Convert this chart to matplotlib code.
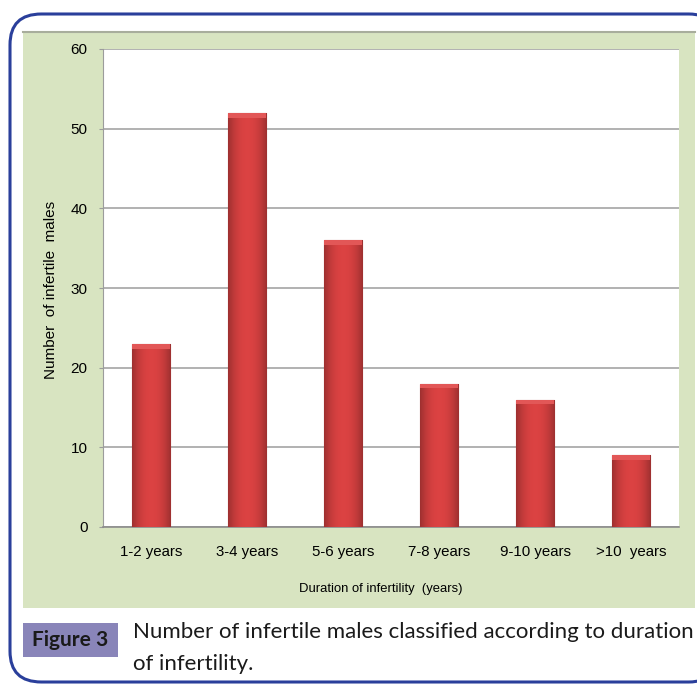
import numpy as np
import matplotlib.pyplot as plt
from matplotlib.patches import FancyBboxPatch, Rectangle

# data
categories = ["1-2 years", "3-4 years", "5-6 years", "7-8 years", "9-10 years", ">10  years"]
counts = [23, 52, 36, 18, 16, 9]
yticks = [0, 10, 20, 30, 40, 50, 60]

W, H = 697, 684
fig = plt.figure(figsize=(W/100, H/100), dpi=100)

def fx(px):
    return px / W

def fy(py):
    return 1 - py / H

# outer rounded frame (runs off the right edge like the original)
frame = FancyBboxPatch((fx(10), fy(682)), fx(720) - fx(10), fy(14) - fy(682),
                       boxstyle="round,pad=0,rounding_size=0.045",
                       transform=fig.transFigure, facecolor="white",
                       edgecolor="#2a3f9b", linewidth=2.2, zorder=0)
fig.patches.append(frame)

# green chart area
fig.patches.append(Rectangle((fx(23), fy(608)), fx(695) - fx(23), fy(32) - fy(608),
                             transform=fig.transFigure, facecolor="#d8e4c1",
                             edgecolor="none", zorder=1))
fig.add_artist(plt.Line2D([fx(23), fx(695)], [fy(32), fy(32)], transform=fig.transFigure,
                          color="#a8ad9c", lw=1.5, zorder=2))

ax = fig.add_axes([fx(103), fy(527), fx(679) - fx(103), fy(49) - fy(527)])
ax.set_zorder(3)
ax.set_facecolor("white")

x = np.arange(len(categories))
bars = ax.bar(x, counts, width=0.40, color="#d43d3d", edgecolor="#a02c2c",
              linewidth=0.8, zorder=3)

# horizontal shading on each bar
grad = np.linspace(-1, 1, 64)
shade = 1 - 0.28 * np.abs(grad) ** 2.2
base = np.array([0.86, 0.26, 0.26])
img = (shade[:, None] * base[None, :])[None, :, :]
for b in bars:
    bx, by = b.get_x(), b.get_y()
    im = ax.imshow(img, extent=[bx, bx + b.get_width(), by, by + b.get_height()],
                   aspect="auto", zorder=3.5, interpolation="bilinear")
    im.set_clip_path(b)
    # faint bevel at the top
    ax.add_patch(Rectangle((bx, b.get_height() - 0.6), b.get_width(), 0.6,
                           facecolor="#e25757", edgecolor="none", zorder=3.6))

ax.set_xlim(-0.5, len(categories) - 0.5)
ax.set_ylim(0, 60)
ax.set_yticks(yticks)
ax.set_xticks(x)
ax.set_xticklabels(categories)
ax.grid(axis="y", color="#9c9c9c", lw=1.1, zorder=1)
ax.set_axisbelow(True)

for s in ["top", "right"]:
    ax.spines[s].set_visible(False)
ax.spines["left"].set_color("#9c9c9c")
ax.spines["bottom"].set_color("#8c8c8c")
ax.spines["bottom"].set_linewidth(1.2)

ax.tick_params(axis="y", length=3, color="#9c9c9c", pad=8, labelsize=11)
ax.tick_params(axis="x", length=0, pad=13, labelsize=10.8)
for t in ax.get_xticklabels() + ax.get_yticklabels():
    t.set_fontfamily("Liberation Sans")

ax.set_xlabel("Duration of infertility  (years)", fontsize=9.4, family="Liberation Sans")
ax.set_ylabel("Number  of infertile  males", fontsize=11, family="Liberation Sans")
ax.xaxis.set_label_coords(0.483, -0.117)
ax.yaxis.set_label_coords(-0.078, 0.496)

# caption
fig.patches.append(Rectangle((fx(23), fy(657)), fx(118) - fx(23), fy(623) - fy(657),
                             transform=fig.transFigure, facecolor="#8985b9",
                             edgecolor="none", zorder=2))
fig.text(fx(70.5), fy(640), "Figure 3", ha="center", va="center", fontsize=15,
         fontweight="bold", family="Lato", color="#1a1a1a", zorder=4)
fig.text(fx(133), fy(638), "Number of infertile males classified according to duration",
         ha="left", va="baseline", fontsize=16, family="Lato", color="#1a1a1a", zorder=4)
fig.text(fx(133), fy(670), "of infertility.", ha="left", va="baseline", fontsize=16,
         family="Lato", color="#1a1a1a", zorder=4)

plt.savefig("out.png", dpi=100)
